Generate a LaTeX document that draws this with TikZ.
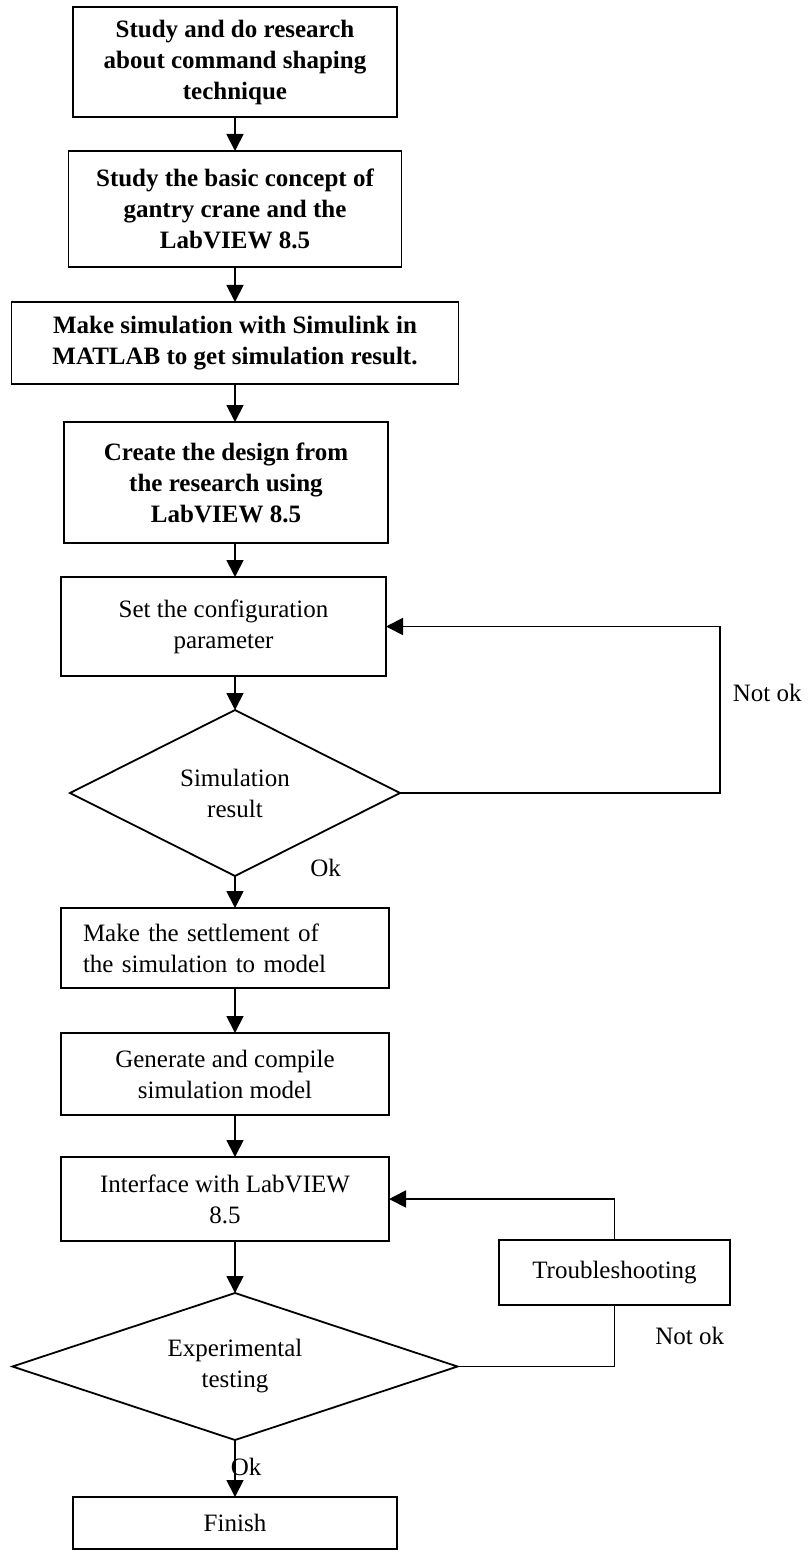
\documentclass[tikz,border=0pt]{standalone}
\usepackage{fontspec}
\setmainfont{Liberation Serif}
\usetikzlibrary{positioning,arrows.meta,shapes.geometric}

\begin{document}
\begin{tikzpicture}[
        font=\fontsize{12.5}{15.5}\selectfont,
        >={Triangle[length=8.5pt,width=8.5pt]},
        stage/.style={
            rectangle,
            draw=black,
            line width=0.9pt,
            align=center,
            inner sep=2pt,
            outer sep=0pt,
            minimum width=#1
        },
        heavy/.style={font=\fontsize{12.5}{15.5}\selectfont\bfseries},
        check/.style={
            diamond,
            draw=black,
            line width=0.9pt,
            align=center,
            aspect=3,
            inner sep=0pt,
            outer sep=0pt,
            minimum width=#1
        },
        flow/.style={->, line width=0.9pt},
        link/.style={line width=0.9pt},
        lbl/.style={inner sep=0pt}
    ]

        \useasboundingbox (0,0) rectangle (404.5pt,-775.5pt);

        % Main column
        \node[stage=162pt, heavy, minimum height=55pt, anchor=north] (research) at (117.5pt,-3.5pt)
            {Study and do research\\about command shaping\\technique};
        \node[stage=166.5pt, heavy, minimum height=58pt, below=17pt of research] (basics)
            {Study the basic concept of\\gantry crane and the\\LabVIEW 8.5};
        \node[stage=223.5pt, heavy, minimum height=41pt, below=17.5pt of basics] (simulink)
            {Make simulation with Simulink in\\MATLAB to get simulation result.};
        \node[stage=162pt, heavy, minimum height=60.5pt, below=19pt of simulink, xshift=-4.5pt] (design)
            {Create the design from\\the research using\\LabVIEW 8.5};
        \node[stage=162.5pt, minimum height=49.5pt, below=17pt of design, xshift=-1.25pt] (config)
            {Set the configuration\\parameter};
        \node[check=165pt, minimum height=83pt, below=17pt of config, xshift=5.75pt] (simres)
            {Simulation\\result};
        \node[stage=164pt, minimum height=40pt, text width=142pt, inner xsep=11pt, align=left,
            below=16pt of simres, xshift=-5pt] (settle)
            {Make the settlement of\\the simulation to model};
        \node[stage=164pt, minimum height=41pt, below=22.5pt of settle] (compile)
            {Generate and compile\\simulation model};
        \node[stage=164pt, minimum height=42pt, below=21pt of compile] (iface)
            {Interface with LabVIEW\\8.5};
        \node[check=222.5pt, minimum height=73.5pt, below=26pt of iface, xshift=5pt] (exptest)
            {Experimental\\testing};
        \node[stage=162pt, minimum height=26pt, below=28.5pt of exptest] (finish)
            {Finish};

        % Side box
        \node[stage=115.5pt, minimum height=32.5pt] (trouble) at (307.25pt,-636.25pt)
            {Troubleshooting};

        % Forward arrows
        \draw[flow] (research) -- (basics);
        \draw[flow] (basics) -- (simulink);
        \draw[flow] (simulink.south) -- (simulink.south |- design.north);
        \draw[flow] (design.south -| simulink) -- (config.north -| simulink);
        \draw[flow] (config.south -| simulink) -- (simres.north);
        \draw[flow] (simres.south) -- (simres.south |- settle.north);
        \draw[flow] (settle.south -| simres) -- (compile.north -| simres);
        \draw[flow] (compile.south -| simres) -- (iface.north -| simres);
        \draw[flow] (iface.south -| exptest) -- (exptest.north);
        \draw[flow] (exptest.south) -- node[lbl, pos=0.47, anchor=west, xshift=-2.5pt] {Ok}
            (exptest.south |- finish.north);

        \node[lbl, right=37.5pt of simres.south, yshift=4pt] (okone) {Ok};

        % Loops back
        \draw[flow] (simres.east) -- ++(160pt,0) |- node[lbl, pos=0.3, right=6pt] {Not ok}
            (config.east);
        \draw[link] (exptest.east) -| node[lbl, pos=0.75, right=20pt] {Not ok} (trouble.south);
        \draw[flow] (trouble.north) |- (iface.east);

    \end{tikzpicture}
\end{document}
